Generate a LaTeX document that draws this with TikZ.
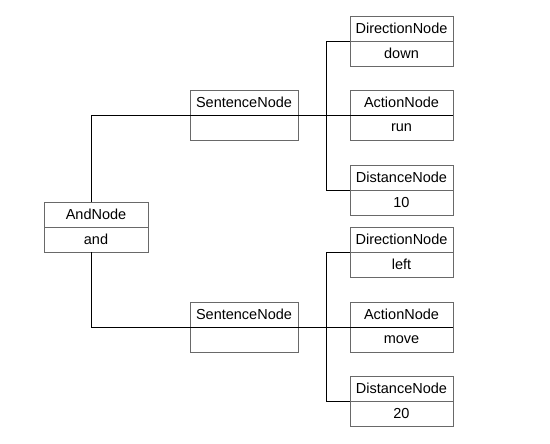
\documentclass[tikz,border=0pt]{standalone}
\usepackage{fontspec}
\setmainfont{Liberation Sans}
\usetikzlibrary{positioning}
\definecolor{boxgray}{RGB}{105,105,105}
\tikzset{
  cell/.style={draw=boxgray, line width=0.9pt, outer sep=0pt, inner sep=0pt,
    minimum width=103pt, minimum height=25pt, font=\fontsize{14.5}{16}\selectfont},
  wire/.style={black, line width=0.8pt},
}
\begin{document}
\begin{tikzpicture}[x=1pt, y=-1pt, node distance=0pt]
\useasboundingbox (0,0) rectangle (550,444);
% root
\node[cell, minimum width=104pt] (andN) at (96,214.5) {AndNode};
\node[cell, minimum width=104pt, below=of andN] (andV) {and};
% first sentence
\node[cell, minimum width=108pt] (sentN1) at (244,102.5) {SentenceNode};
\node[cell, minimum width=108pt, below=of sentN1] (sentV1) {};
\node[cell] (dirN1) at (401.5,28.5) {DirectionNode};
\node[cell, below=of dirN1] (dirV1) {down};
\node[cell] (actN1) at (401.5,102.5) {ActionNode};
\node[cell, below=of actN1] (actV1) {run};
\node[cell] (distN1) at (401.5,177.5) {DistanceNode};
\node[cell, below=of distN1] (distV1) {10};
% second sentence
\node[cell, minimum width=108pt] (sentN2) at (244,314.5) {SentenceNode};
\node[cell, minimum width=108pt, below=of sentN2] (sentV2) {};
\node[cell] (dirN2) at (401.5,239.5) {DirectionNode};
\node[cell, below=of dirN2] (dirV2) {left};
\node[cell] (actN2) at (401.5,314.5) {ActionNode};
\node[cell, below=of actN2] (actV2) {move};
\node[cell] (distN2) at (401.5,388.5) {DistanceNode};
\node[cell, below=of distN2] (distV2) {20};
% connectors
\draw[wire] ([xshift=-5pt]andN.north) |- (actN1.south east);
\draw[wire] ([xshift=-5pt]andV.south) |- (actN2.south east);
\draw[wire] (dirN1.south west) -- ++(-24,0) |- (distN1.south west);
\draw[wire] (dirN2.south west) -- ++(-24,0) |- (distN2.south west);
\end{tikzpicture}
\end{document}
